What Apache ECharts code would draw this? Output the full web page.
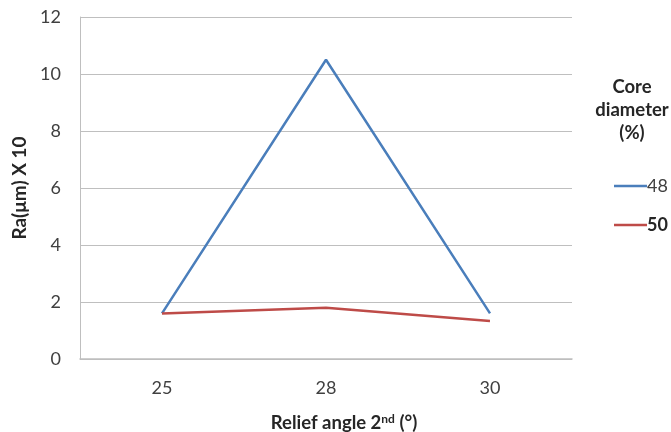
<!DOCTYPE html>
<html><head><meta charset="utf-8">
<script src="https://cdn.jsdelivr.net/npm/echarts@6/dist/echarts.min.js"></script>
<style>html,body{margin:0;padding:0;background:#fff}#c{width:671px;height:432px}</style>
</head><body><div id="c"></div>
<script>
const categories = ['25', '28', '30'];
const series48 = [1.6, 10.5, 1.6];
const series50 = [1.6, 1.8, 1.33];
const seriesNames = ['48', '50'];
const yTicks = {min: 0, max: 12, interval: 2};

const font = 'Lato, "Open Sans", "Liberation Sans", sans-serif';
const chart = echarts.init(document.getElementById('c'));
chart.setOption({
  animation: false,
  backgroundColor: '#fff',
  grid: {left: 80, right: 99, top: 17, bottom: 73, containLabel: false, outerBoundsMode: 'none'},
  title: {
    text: 'Core\ndiameter\n(%)',
    left: 627, top: 71, textAlign: 'center',
    textStyle: {fontFamily: font, fontSize: 18.5, fontWeight: 'bold', color: '#262626', lineHeight: 23}
  },
  legend: {
    orient: 'vertical', left: 609, top: 172, itemWidth: 33, itemHeight: 16, itemGap: 21,
    icon: 'path://M0,7L33,7L33,9.5L0,9.5Z',
    data: seriesNames,
    formatter: n => n === '50' ? '{b|' + n + '}' : '{a|' + n + '}',
    textStyle: {
      fontFamily: font, fontSize: 18, color: '#262626', padding: [0, 0, 0, -5],
      rich: {a: {fontFamily: font, fontSize: 18, color: '#404040'}, b: {fontFamily: font, fontSize: 18, fontWeight: 'bold', color: '#262626'}}
    }
  },
  xAxis: {
    type: 'category', data: categories, boundaryGap: true,
    name: '{n|Relief angle 2}{s|nd}{n| (°)}', nameLocation: 'middle', nameGap: 54,
    nameTextStyle: {padding: [0, 0, 0, 36], rich: {n: {fontFamily: font, fontSize: 18.5, fontWeight: 'bold', color: '#262626', lineHeight: 20}, s: {fontFamily: font, fontSize: 12, fontWeight: 'bold', color: '#262626', verticalAlign: 'top', lineHeight: 12}}},
    axisLine: {lineStyle: {color: '#bfbfbf', width: 1.5}},
    axisTick: {show: false},
    axisLabel: {fontFamily: font, fontSize: 18, color: '#404040', margin: 20}
  },
  yAxis: {
    type: 'value', min: yTicks.min, max: yTicks.max, interval: yTicks.interval,
    name: 'Ra(μm) X 10', nameLocation: 'middle', nameGap: 46, nameRotate: 90,
    nameTextStyle: {fontFamily: font, fontSize: 19, fontWeight: 'bold', color: '#262626'},
    axisLine: {show: true, lineStyle: {color: '#bfbfbf', width: 1}},
    axisTick: {show: false},
    splitLine: {lineStyle: {color: '#bfbfbf', width: 1}},
    axisLabel: {fontFamily: font, fontSize: 18, color: '#404040', margin: 19}
  },
  series: [
    {name: seriesNames[0], type: 'line', data: series48, showSymbol: false, symbol: 'none',
     lineStyle: {color: '#4a7ebb', width: 2.5}, itemStyle: {color: '#4a7ebb'}},
    {name: seriesNames[1], type: 'line', data: series50, showSymbol: false, symbol: 'none',
     lineStyle: {color: '#be4b48', width: 2.5}, itemStyle: {color: '#be4b48'}}
  ]
});
</script></body></html>
